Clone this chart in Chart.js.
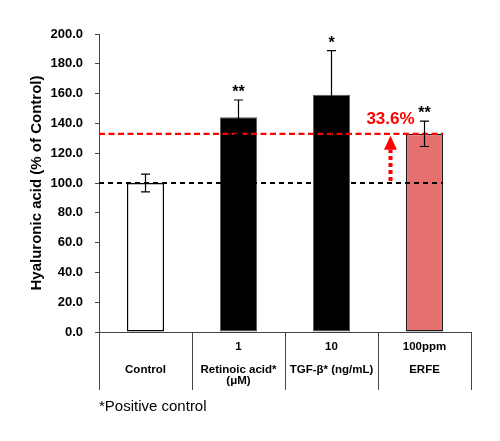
<!DOCTYPE html>
<html>
<head>
<meta charset="utf-8">
<script src="https://cdn.jsdelivr.net/npm/chart.js@4.4.1/dist/chart.umd.min.js"></script>
<style>
  html, body { margin: 0; padding: 0; background: #fff; }
  #wrap { width: 500px; height: 441px; }
</style>
</head>
<body>
<div id="wrap"><canvas id="chart"></canvas></div>
<script>
// data
const categories = [
  ["", "", "Control"],
  ["1", "", "Retinoic acid*", "(μM)"],
  ["10", "", "TGF-β* (ng/mL)"],
  ["100ppm", "", "ERFE"],
];
const values = [100.0, 144.2, 159.3, 133.0];
const errors = [6.0, 11.5, 29.5, 8.5];
const stars = ["", "**", "*", "**"];
const controlLevel = 100.0;
const increaseText = "33.6%";
const footnote = "*Positive control";

const FONT = "'Liberation Sans', Arial, sans-serif";

// error bars, significance marks, dashed reference lines and the arrow
const extras = {
  id: "extras",
  afterDatasetsDraw(chart) {
    const ctx = chart.ctx;
    const x = chart.scales.x;
    const y = chart.scales.y;
    const bars = chart.getDatasetMeta(0).data;
    const area = chart.chartArea;
    const last = bars[bars.length - 1];
    const lineEnd = last.x + last.width / 2;

    ctx.save();

    // dashed lines at control level and ERFE level
    const yCtrl = y.getPixelForValue(controlLevel);
    const yErfe = y.getPixelForValue(values[values.length - 1]);
    ctx.lineWidth = 2;
    ctx.strokeStyle = "#000";
    ctx.setLineDash([5, 4]);
    ctx.beginPath();
    ctx.moveTo(area.left, yCtrl);
    ctx.lineTo(lineEnd, yCtrl);
    ctx.stroke();
    ctx.strokeStyle = "#ff0000";
    ctx.lineWidth = 2.2;
    ctx.setLineDash([6, 3.5]);
    ctx.beginPath();
    ctx.moveTo(area.left, yErfe);
    ctx.lineTo(lineEnd, yErfe);
    ctx.stroke();
    ctx.setLineDash([]);

    // error bars
    ctx.strokeStyle = "#000";
    ctx.lineWidth = 1.2;
    bars.forEach((bar, i) => {
      const top = y.getPixelForValue(values[i] + errors[i]);
      const bot = y.getPixelForValue(values[i] - errors[i]);
      ctx.beginPath();
      ctx.moveTo(bar.x, top);
      ctx.lineTo(bar.x, bot);
      ctx.moveTo(bar.x - 4.5, top);
      ctx.lineTo(bar.x + 4.5, top);
      ctx.moveTo(bar.x - 4.5, bot);
      ctx.lineTo(bar.x + 4.5, bot);
      ctx.stroke();

      if (stars[i]) {
        ctx.fillStyle = "#000";
        ctx.font = "bold 16px " + FONT;
        ctx.textAlign = "center";
        ctx.textBaseline = "alphabetic";
        ctx.fillText(stars[i], bar.x, top - 3);
      }
    });

    // red dotted arrow from control level up to ERFE level
    const ax = x.getPixelForValue(3) - 34;
    const headBase = yErfe + 16;
    ctx.strokeStyle = "#ff0000";
    ctx.fillStyle = "#ff0000";
    ctx.lineWidth = 4;
    ctx.setLineDash([4, 3]);
    ctx.beginPath();
    ctx.moveTo(ax, yCtrl - 2);
    ctx.lineTo(ax, headBase);
    ctx.stroke();
    ctx.setLineDash([]);
    ctx.beginPath();
    ctx.moveTo(ax - 6.5, headBase);
    ctx.lineTo(ax + 6.5, headBase);
    ctx.lineTo(ax, yErfe + 2);
    ctx.closePath();
    ctx.fill();

    ctx.font = "bold 17px " + FONT;
    ctx.textAlign = "center";
    ctx.textBaseline = "middle";
    ctx.fillText(increaseText, ax, yErfe - 15);

    ctx.restore();
  },
};

new Chart(document.getElementById("chart"), {
  type: "bar",
  data: {
    labels: categories,
    datasets: [{
      data: values,
      backgroundColor: ["#ffffff", "#000000", "#000000", "#e57070"],
      borderColor: ["#000000", "#5a5a5a", "#5a5a5a", "#1a1a1a"],
      borderWidth: [1.5, 1, 1, 1.5],
      borderSkipped: false,
      categoryPercentage: 1.0,
      barPercentage: 0.4,
    }],
  },
  options: {
    responsive: true,
    maintainAspectRatio: false,
    animation: false,
    devicePixelRatio: 1,
    layout: { padding: { left: 24, right: 29, top: 34, bottom: 21 } },
    plugins: {
      legend: { display: false },
      tooltip: { enabled: false },
      title: {
        display: true,
        text: footnote,
        position: "bottom",
        align: "start",
        fullSize: false,
        color: "#000",
        font: { family: FONT, size: 15, weight: "normal" },
        padding: { top: 8, bottom: 4 },
      },
    },
    scales: {
      x: {
        offset: true,
        grid: {
          offset: true,
          drawOnChartArea: false,
          tickLength: 58,
          color: "#444",
        },
        border: { color: "#444", width: 1 },
        ticks: {
          color: "#000",
          font: { family: FONT, size: 11.5, weight: "bold", lineHeight: "11.5px" },
          padding: -49,
          maxRotation: 0,
          autoSkip: false,
        },
        // the label rows sit inside the divider lines
        afterFit: (s) => { s.height = 58; },
      },
      y: {
        min: 0,
        max: 200,
        grid: { drawOnChartArea: false, tickLength: 4, color: "#444" },
        border: { color: "#444", width: 1 },
        ticks: {
          stepSize: 20,
          padding: 12,
          color: "#000",
          font: { family: FONT, size: 13, weight: "bold" },
          callback: (v) => Number(v).toFixed(1),
        },
        title: {
          display: true,
          text: "Hyaluronic acid (% of Control)",
          color: "#000",
          font: { family: FONT, size: 15, weight: "bold" },
          padding: { top: 4, bottom: 4 },
        },
        afterFit: (s) => { s.width = 75; },
      },
    },
  },
  plugins: [extras],
});
</script>
</body>
</html>
